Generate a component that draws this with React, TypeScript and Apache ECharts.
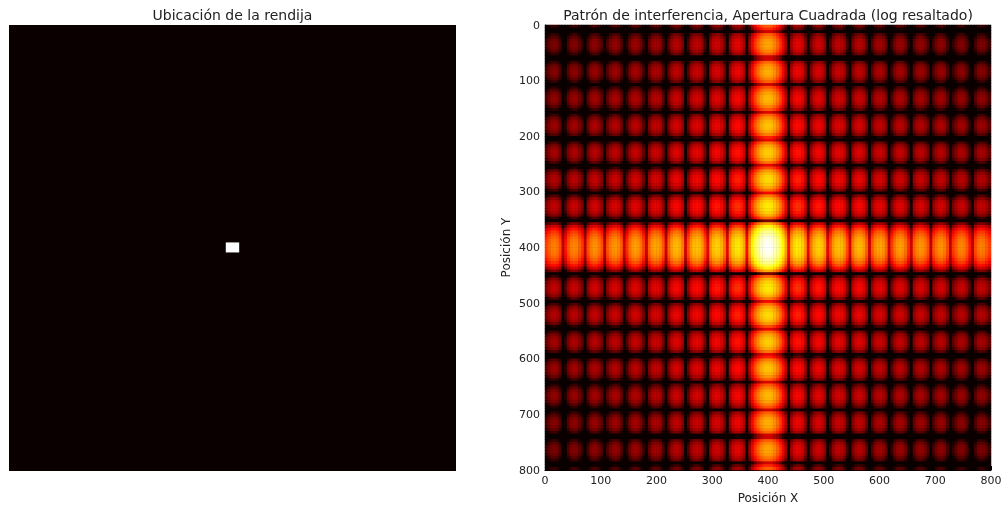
import React, { useEffect, useRef } from "react";
import * as echarts from "echarts";

// Brightness on the "hot" scale: one profile per axis, every 5 units.
const columnProfile = [
  -0.04, 0.01, 0.05, 0.06, 0.04, -0.02, -0.22,
  -0.1, 0, 0.05, 0.07, 0.06, 0.01, -0.05,
  -0.22, -0.015, 0.055, 0.085, 0.08, 0.045, -0.01, -0.22,
  -0.01, 0.05, 0.085, 0.095, 0.07, 0.01, -0.2,
  -0.06, 0.04, 0.09, 0.105, 0.09, 0.045, -0.04,
  -0.2, 0.02, 0.09, 0.115, 0.11, 0.08, 0, -0.2,
  0.015, 0.102, 0.139, 0.145, 0.12, 0.055, -0.18,
  -0.01, 0.095, 0.146, 0.16, 0.146, 0.095, -0.01,
  -0.15, 0.09, 0.155, 0.18, 0.174, 0.137, 0.05, -0.15,
  0.09, 0.18, 0.214, 0.22, 0.193, 0.123, -0.11,
  0.12, 0.24, 0.33, 0.4, 0.45, 0.485, 0.499,
  0.499, 0.485, 0.45, 0.4, 0.33, 0.24, 0.12,
  -0.11, 0.123, 0.193, 0.22, 0.214, 0.18, 0.09,
  -0.15, 0.05, 0.137, 0.174, 0.18, 0.155, 0.09, -0.15,
  -0.01, 0.095, 0.146, 0.16, 0.146, 0.095, -0.01,
  -0.18, 0.055, 0.12, 0.145, 0.139, 0.102, 0.015,
  -0.2, 0, 0.08, 0.11, 0.115, 0.09, 0.02, -0.2,
  -0.04, 0.045, 0.09, 0.105, 0.09, 0.04, -0.06,
  -0.2, 0.01, 0.07, 0.095, 0.085, 0.05, -0.01,
  -0.22, -0.01, 0.045, 0.08, 0.085, 0.055, -0.015, -0.22,
  -0.05, 0.01, 0.06, 0.07, 0.05, 0, -0.1,
  -0.22, -0.02, 0.04, 0.06, 0.05, 0.01, -0.04,
];
const rowProfile = [
  0.01, -0.07,
  -0.2, 0.01, 0.053, 0.093, 0.112, 0.113, 0.099, 0.065, 0.01, -0.2,
  -0.2, 0.02, 0.082, 0.116, 0.128, 0.126, 0.106, 0.064, 0.01, -0.2,
  -0.01, 0.057, 0.109, 0.135, 0.145, 0.137, 0.112, 0.062, 0,
  -0.18, 0.02, 0.09, 0.134, 0.155, 0.16, 0.147, 0.116, 0.057, -0.08,
  -0.16, 0.048, 0.12, 0.157, 0.173, 0.172, 0.155, 0.118, 0.045, -0.16,
  -0.02, 0.095, 0.153, 0.183, 0.195, 0.19, 0.167, 0.122, 0.04, -0.14,
  0.05, 0.14, 0.188, 0.213, 0.22, 0.21, 0.183, 0.13, 0.02,
  -0.33, 0.12, 0.24, 0.33, 0.39, 0.43, 0.46, 0.48, 0.49, 0.499,
  0.499, 0.49, 0.48, 0.46, 0.43, 0.39, 0.33, 0.24, 0.12, -0.33,
  0.02, 0.13, 0.183, 0.21, 0.22, 0.213, 0.188, 0.14, 0.05,
  -0.14, 0.04, 0.122, 0.167, 0.19, 0.195, 0.183, 0.153, 0.095, -0.02,
  -0.16, 0.045, 0.118, 0.155, 0.172, 0.173, 0.157, 0.12, 0.048, -0.16,
  -0.08, 0.057, 0.116, 0.147, 0.16, 0.155, 0.134, 0.09, 0.02, -0.18,
  0, 0.062, 0.112, 0.137, 0.145, 0.135, 0.109, 0.057, -0.01,
  -0.2, 0.01, 0.064, 0.106, 0.126, 0.128, 0.116, 0.082, 0.02, -0.2,
  -0.2, 0.01, 0.065, 0.099, 0.113, 0.112, 0.093, 0.053, 0.01, -0.2,
  -0.07, 0.01,
];
const cellCentersX = columnProfile.map((_, i) => String(i * 5 + 2.5));
const cellCentersY = rowProfile.map((_, i) => String(i * 5 + 2.5));
const hotColors = ["#0a0000", "#5e0000", "#b20000", "#ff0700", "#ff5a00", "#ffae00", "#ffff04", "#ffff82", "#ffffff"];
const slitX = [388, 412];
const slitY = [390, 408];

const titleLeft = "Ubicación de la rendija";
const titleRight = "Patrón de interferencia, Apertura Cuadrada (log resaltado)";
const xName = "Posición X";
const yName = "Posición Y";
const FONT = "DejaVu Sans";

export default function App() {
  const ref = useRef<HTMLDivElement>(null);
  useEffect(() => {
    const chart = echarts.init(ref.current!, undefined, { renderer: "svg" });
    const cells: number[][] = [];
    rowProfile.forEach((r, yi) => {
      columnProfile.forEach((c, xi) => {
        cells.push([xi, yi, Math.min(1, Math.max(0, r + c))]);
      });
    });
    const frame = { show: true, lineStyle: { color: "#000", width: 1 } };
    const label = { color: "#222", fontFamily: FONT, fontSize: 11, margin: 5 };
    const nameStyle = { color: "#222", fontFamily: FONT, fontSize: 12 };
    chart.setOption({
      animation: false,
      backgroundColor: "#fff",
      title: [
        { text: titleLeft, left: 227.5, top: 3, textAlign: "center", textStyle: { color: "#222", fontFamily: FONT, fontSize: 14, fontWeight: "normal" } },
        { text: titleRight, left: 763, top: 3, textAlign: "center", textStyle: { color: "#222", fontFamily: FONT, fontSize: 14, fontWeight: "normal" } },
      ],
      grid: [
        { left: 9, top: 25, width: 447, height: 446, show: true, backgroundColor: "#0a0000", borderWidth: 0 },
        { left: 545, top: 25, width: 446, height: 445, show: true, backgroundColor: "#000", borderWidth: 0 },
      ],
      xAxis: [
        { gridIndex: 0, type: "value", min: 0, max: 800, show: false },
        { gridIndex: 1, type: "category", data: cellCentersX, show: false },
        {
          gridIndex: 1, type: "value", min: 0, max: 800, interval: 100, position: "bottom",
          axisLine: frame, axisTick: { show: true, inside: true, length: 4, lineStyle: { color: "#000" } },
          splitLine: { show: false }, axisLabel: label,
          name: xName, nameLocation: "middle", nameGap: 22, nameTextStyle: nameStyle,
        },
      ],
      yAxis: [
        { gridIndex: 0, type: "value", min: 0, max: 800, inverse: true, show: false },
        { gridIndex: 1, type: "category", data: cellCentersY, inverse: true, show: false },
        {
          gridIndex: 1, type: "value", min: 0, max: 800, interval: 100, inverse: true, position: "left",
          axisLine: frame, axisTick: { show: true, inside: true, length: 4, lineStyle: { color: "#000" } },
          splitLine: { show: false }, axisLabel: label,
          name: yName, nameLocation: "middle", nameGap: 33, nameRotate: 90, nameTextStyle: nameStyle,
        },
      ],
      visualMap: { show: false, min: 0, max: 1, dimension: 2, seriesIndex: 1, inRange: { color: hotColors } },
      series: [
        {
          type: "custom", xAxisIndex: 0, yAxisIndex: 0, silent: true,
          data: [[slitX[0], slitY[0], slitX[1], slitY[1]]],
          renderItem: (_: any, api: any) => {
            const a = api.coord([api.value(0), api.value(1)]);
            const b = api.coord([api.value(2), api.value(3)]);
            return { type: "rect", shape: { x: a[0], y: a[1], width: b[0] - a[0], height: b[1] - a[1] }, style: { fill: "#fff" } };
          },
        },
        { type: "heatmap", xAxisIndex: 1, yAxisIndex: 1, data: cells, progressive: 0, silent: true, emphasis: { disabled: true } },
      ],
    });
    return () => chart.dispose();
  }, []);
  return <div ref={ref} style={{ position: "fixed", left: 0, top: 0, width: 1005, height: 512, filter: "blur(0.6px)" }} />;
}
